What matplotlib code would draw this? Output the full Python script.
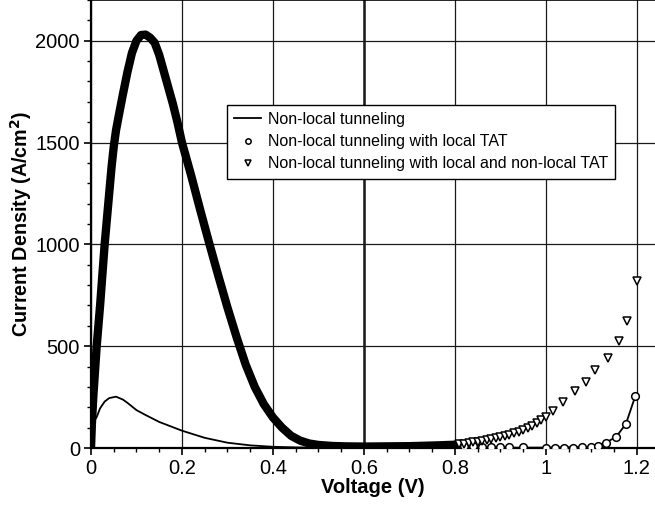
import matplotlib
matplotlib.use('Agg')
import matplotlib.pyplot as plt
from matplotlib.ticker import MultipleLocator

plt.rcParams['font.family'] = ['Liberation Sans', 'DejaVu Sans']

# Non-local tunneling (solid line)
v_nl = [0.0, 0.003, 0.005, 0.0125, 0.02, 0.03, 0.04, 0.055, 0.07, 0.08, 0.10,
        0.12, 0.15, 0.20, 0.25, 0.30, 0.35, 0.40, 0.45, 0.50, 0.60, 0.80,
        1.00, 1.10, 1.133, 1.155, 1.176, 1.197]
j_nl = [0, 110, 125, 152, 195, 228, 245, 252, 238, 222, 186,
        162, 128, 85, 50, 26, 13, 6, 3, 2, 1, 1,
        2, 5, 27, 56, 118, 257]

# shared hump of both TAT curves (they overlap below 0.8 V)
v_hump = [0.0, 0.002, 0.005, 0.0125, 0.02, 0.03, 0.04, 0.045, 0.05, 0.055,
          0.06, 0.07, 0.08, 0.09, 0.10, 0.11, 0.12, 0.13, 0.14, 0.15, 0.16,
          0.17, 0.18, 0.19, 0.20, 0.22, 0.24, 0.26, 0.28, 0.30, 0.32, 0.34,
          0.36, 0.38, 0.40, 0.42, 0.44, 0.46, 0.48, 0.50, 0.53, 0.56, 0.60,
          0.65, 0.70, 0.75, 0.80]
j_hump = [0, 120, 250, 500, 700, 1000, 1250, 1375, 1480, 1560,
          1620, 1735, 1845, 1940, 2000, 2028, 2030, 2015, 1990, 1930, 1850,
          1770, 1690, 1600, 1500, 1340, 1170, 1005, 845, 690, 545, 410,
          300, 215, 150, 100, 60, 36, 22, 15, 10, 8, 7,
          8, 9, 12, 16]

# local TAT tail
v_loc = [0.82, 0.84, 0.86, 0.88, 0.90, 0.92, 0.95, 1.00, 1.02, 1.04, 1.06,
         1.08, 1.10, 1.115, 1.133, 1.155, 1.176, 1.197]
j_loc = [9, 8, 7, 6, 5, 4, 3, 2, 2, 2, 2,
         3, 5, 12, 27, 56, 118, 257]

# local + non-local TAT tail
v_tri = [0.81, 0.82, 0.83, 0.84, 0.85, 0.86, 0.87, 0.88, 0.89, 0.90, 0.91,
         0.92, 0.93, 0.94, 0.95, 0.96, 0.97, 0.98, 0.99, 1.00, 1.016, 1.037,
         1.064, 1.088, 1.109, 1.136, 1.161, 1.178, 1.2]
j_tri = [20, 22, 25, 28, 31, 35, 39, 44, 48, 54, 60,
         66, 72, 80, 88, 98, 110, 125, 138, 150, 182, 228,
         280, 325, 384, 441, 527, 625, 822]

fig = plt.figure(figsize=(6.55, 5.07), dpi=100)
ax = fig.add_axes([91 / 655, 1 - 448 / 507, 1 - 91 / 655, 448 / 507])

ax.grid(True, which='major', color='#1a1a1a', lw=0.9)
ax.axvline(0.6, color='#1a1a1a', lw=1.8, zorder=0.5)
ax.set_axisbelow(True)

# dense marker band drawn as thick stroke
ax.plot(v_hump, j_hump, color='black', lw=6, solid_capstyle='round',
        solid_joinstyle='round', zorder=2)

ax.plot(v_nl, j_nl, '-', color='black', lw=1.3, zorder=4,
        label='Non-local tunneling')
ax.plot(v_loc, j_loc, 'o', ms=5.5, mfc='white', mec='black', mew=1.1,
        zorder=5, label='Non-local tunneling with local TAT')
ax.plot(v_tri, j_tri, 'v', ms=6, mfc='white', mec='black', mew=1.1,
        zorder=5, label='Non-local tunneling with local and non-local TAT')

ax.set_xlim(0, 1.24)
ax.set_ylim(0, 2200)
ax.xaxis.set_major_locator(MultipleLocator(0.2))
ax.xaxis.set_minor_locator(MultipleLocator(0.05))
ax.yaxis.set_major_locator(MultipleLocator(500))
ax.yaxis.set_minor_locator(MultipleLocator(100))
ax.set_xticks([0, 0.2, 0.4, 0.6, 0.8, 1.0, 1.2])
ax.set_xticklabels(['0', '0.2', '0.4', '0.6', '0.8', '1', '1.2'])
ax.tick_params(which='major', direction='out', length=5, width=1.2,
               labelsize=14.5, pad=3)
ax.tick_params(which='minor', direction='out', length=3, width=1)
ax.tick_params(top=False, right=False, which='both')

for side in ('left', 'bottom'):
    ax.spines[side].set_linewidth(1.6)
ax.spines['right'].set_visible(False)
ax.spines['top'].set_linewidth(1.2)

ax.set_xlabel('Voltage (V)', fontsize=14.5, fontweight='bold', labelpad=0)
ax.set_ylabel('Current Density (A/cm$^\\mathbf{2}$)', fontsize=14.2,
              fontweight='bold', labelpad=1)

leg = ax.legend(loc='upper left', bbox_to_anchor=(0.241, 0.766),
                borderaxespad=0, fontsize=11.5, frameon=True, fancybox=False,
                edgecolor='black', framealpha=1, handlelength=1.7,
                handletextpad=0.4, markerscale=0.7, labelspacing=0.45,
                borderpad=0.45)
leg.get_frame().set_linewidth(1.0)

fig.savefig('out.png', dpi=100)
